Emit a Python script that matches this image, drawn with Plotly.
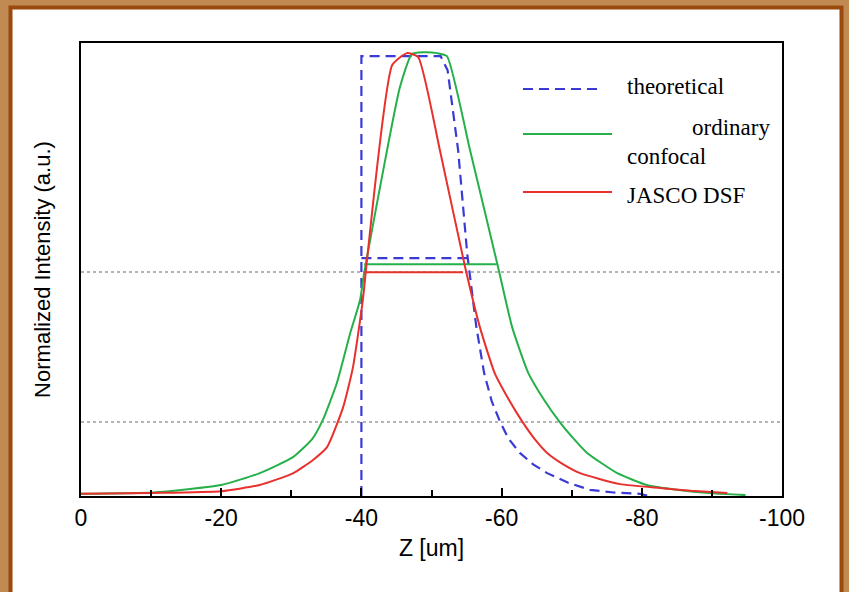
import plotly.graph_objects as go

# ---- data ----
theo_x = [-40, -40, -51.3, -52.3, -53.8, -55.1, -56.4, -57.5, -58.6, -59.8, -61.0, -62.6, -64.5,
          -66.5, -69.5, -72.6, -76.0, -79.7, -81.0]
theo_y = [0.0, 1.0, 1.0, 0.968, 0.786, 0.550, 0.384, 0.280, 0.215, 0.168, 0.130, 0.098, 0.072,
          0.052, 0.030, 0.014, 0.008, 0.005, 0.0]

conf_x = [0, -10.3, -20.0, -25.5, -30.3, -33.0, -34.5, -36.5, -38.4, -39.8, -40.4, -45.5, -47.2,
          -48.8, -50.8, -52.2, -55.5, -59.5, -61.5, -63.8, -66.0, -68.3, -70.3, -72.2, -76.5,
          -80.7, -85.0, -90.0, -94.8]
conf_y = [0.005, 0.008, 0.025, 0.052, 0.089, 0.13, 0.173, 0.257, 0.370, 0.445, 0.507, 0.93, 1.005,
          1.009, 1.007, 1.0, 0.786, 0.52, 0.384, 0.280, 0.22, 0.168, 0.13, 0.098, 0.052,
          0.025, 0.014, 0.006, 0.002]

dsf_x = [0, -10.3, -20.0, -25.5, -30.3, -33.1, -35.1, -37.4, -38.8, -40.2, -40.9, -44.4, -46.5,
         -48.1, -51.2, -54.8, -56.9, -59.0, -61.0, -63.0, -64.7, -66.5, -68.8, -71.2, -76.9,
         -82.6, -87.0, -92.2]
dsf_y = [0.005, 0.007, 0.011, 0.025, 0.052, 0.082, 0.111, 0.202, 0.293, 0.445, 0.552, 0.980, 1.007,
         0.998, 0.786, 0.520, 0.384, 0.280, 0.22, 0.168, 0.13, 0.098, 0.072, 0.052, 0.027,
         0.018, 0.012, 0.007]

# half-maximum markers
theo_half_x, theo_half_y = [-40, -55.2], [0.541, 0.541]
conf_half_x, conf_half_y = [-40.4, -59.3], [0.527, 0.527]
dsf_half_x, dsf_half_y = [-40.4, -54.5], [0.509, 0.509]

x_ticks = [0, -20, -40, -60, -80, -100]
x_tick_labels = ["0", "-20", "-40", "-60", "-80", "-100"]
x_minor = [-10, -30, -50, -70, -90]
grid_levels = [0.168, 0.509]

series_names = ["theoretical", "ordinary confocal", "JASCO DSF"]
BLUE, GREEN, RED = "#3a3ad4", "#25b04a", "#e8302c"

fig = go.Figure()
fig.add_trace(go.Scatter(x=theo_x, y=theo_y, mode="lines", name=series_names[0],
                         line=dict(color=BLUE, width=2.2, dash="10px,6px")))
fig.add_trace(go.Scatter(x=theo_half_x, y=theo_half_y, mode="lines", showlegend=False,
                         line=dict(color=BLUE, width=2.2, dash="10px,6px")))
fig.add_trace(go.Scatter(x=conf_x, y=conf_y, mode="lines", name=series_names[1],
                         line=dict(color=GREEN, width=2, shape="spline", smoothing=0.5)))
fig.add_trace(go.Scatter(x=conf_half_x, y=conf_half_y, mode="lines", showlegend=False,
                         line=dict(color=GREEN, width=2)))
fig.add_trace(go.Scatter(x=dsf_x, y=dsf_y, mode="lines", name=series_names[2],
                         line=dict(color=RED, width=2, shape="spline", smoothing=0.5)))
fig.add_trace(go.Scatter(x=dsf_half_x, y=dsf_half_y, mode="lines", showlegend=False,
                         line=dict(color=RED, width=2)))

# geometry helpers (pixel -> paper) for the frame and the legend drawing
L, R, T, B = 81, 782, 43, 496
W, H = 849, 592
def px(x):
    return (x - L) / (R - L)
def py(y):
    return (B - y) / (B - T)

shapes = [
    dict(type="rect", xref="paper", yref="paper", x0=px(10.5), x1=px(841.5), y0=py(640), y1=py(7.5),
         fillcolor="white", line=dict(color="#9a4a0c", width=4), layer="below"),
]
legend_rows = [(89, BLUE, "10px,6px", 603), (134, GREEN, "solid", 612), (192, RED, "solid", 612)]
for yy, col, dash, xend in legend_rows:
    shapes.append(dict(type="line", xref="paper", yref="paper", x0=px(523), x1=px(xend),
                       y0=py(yy), y1=py(yy), line=dict(color=col, width=2.2, dash=dash)))

serif = dict(family="Liberation Serif, Times New Roman, serif", size=23, color="black")
annotations = [
    dict(text="theoretical", x=px(625), y=py(86), xanchor="left", yanchor="middle"),
    dict(text="ordinary", x=px(690), y=py(128), xanchor="left", yanchor="middle"),
    dict(text="confocal", x=px(625), y=py(156), xanchor="left", yanchor="middle"),
    dict(text="JASCO DSF", x=px(625), y=py(195), xanchor="left", yanchor="middle"),
]
for a in annotations:
    a.update(xref="paper", yref="paper", showarrow=False, font=serif)

sans = "Liberation Sans, Arial, sans-serif"
fig.update_layout(
    width=W, height=H,
    margin=dict(l=L, r=W - R, t=T, b=H - B, pad=0),
    paper_bgcolor="#c08a52",
    plot_bgcolor="white",
    showlegend=False,
    shapes=shapes,
    annotations=annotations,
    xaxis=dict(range=[0, -100], tickmode="array", tickvals=x_ticks, ticktext=x_tick_labels,
               ticks="inside", ticklen=8, tickwidth=2, tickcolor="black",
               minor=dict(tickmode="array", tickvals=x_minor, ticks="inside", ticklen=6,
                          tickwidth=2, tickcolor="black"),
               showline=True, linecolor="black", linewidth=2, mirror=True,
               showgrid=False, zeroline=False,
               tickfont=dict(family=sans, size=23, color="black"),
               title=dict(text="Z [um]", font=dict(family=sans, size=23, color="black"), standoff=10)),
    yaxis=dict(range=[0, 1.03], tickmode="array", tickvals=grid_levels, showticklabels=False,
               ticks="", showline=True, linecolor="black", linewidth=2, mirror=True,
               showgrid=True, gridcolor="#b4b4b4", gridwidth=1.5, griddash="dot", zeroline=False,
               title=dict(text="Normalized Intensity (a.u.)",
                          font=dict(family=sans, size=22, color="black"), standoff=22)),
)

fig.write_html("out.html")
